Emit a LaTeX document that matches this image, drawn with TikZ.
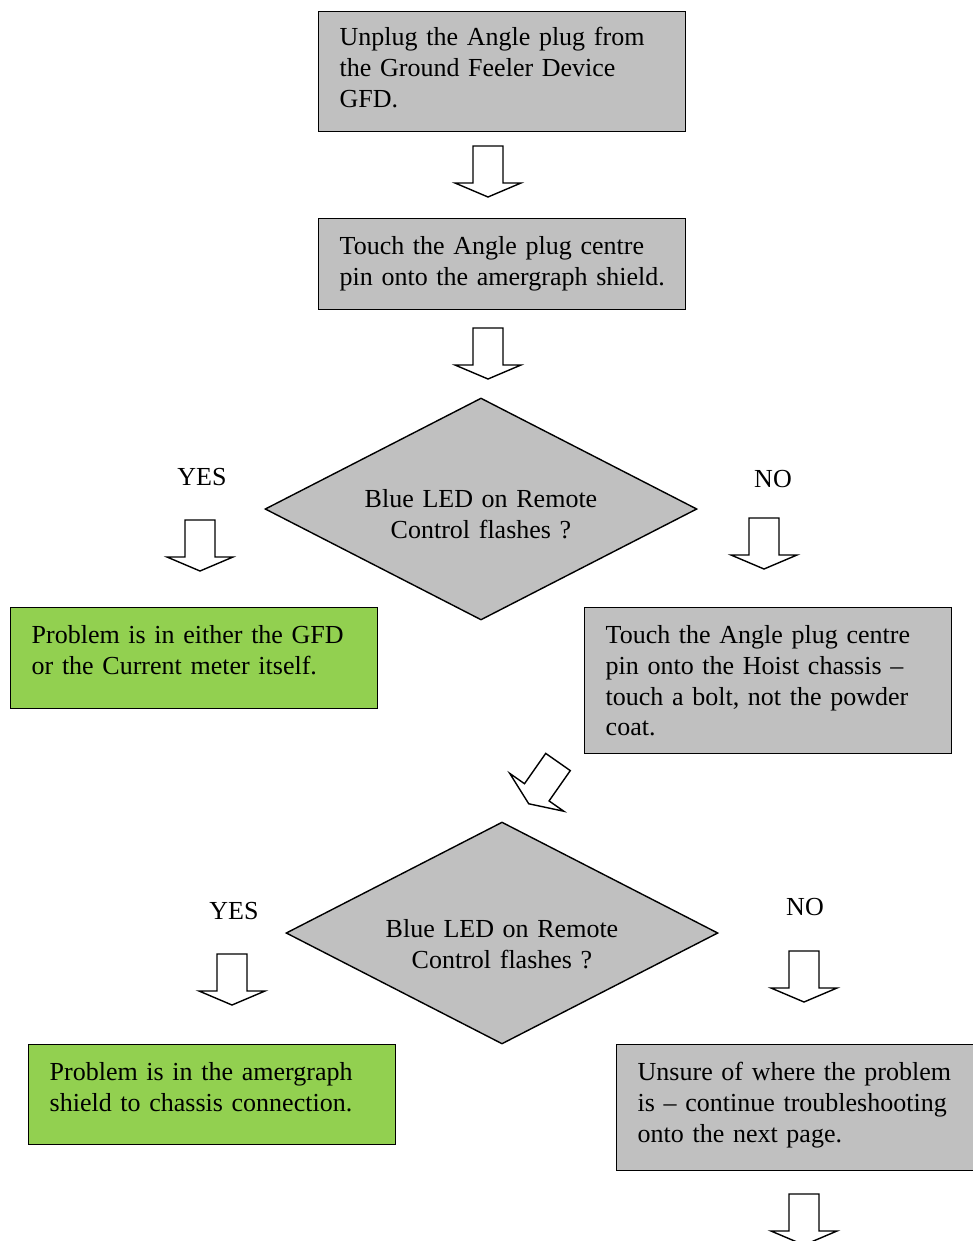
\documentclass[tikz,border=0pt]{standalone}
\usepackage{fontspec}
\setmainfont{Liberation Serif}
\usetikzlibrary{shapes.geometric}
\definecolor{boxgray}{HTML}{C0C0C0}
\definecolor{boxgreen}{HTML}{92D050}

\begin{document}
\begin{tikzpicture}[
    x=0.02cm, y=-0.02cm,
    font=\fontsize{14.8}{17.6}\selectfont,
    line width=0.8pt,
    stepbox/.style={draw, fill=boxgray, anchor=north west, align=left,
      inner xsep=0.42cm, inner ysep=0pt, text width=6.5cm,
      text height=0.71cm, text depth=#1},
    okbox/.style={stepbox=#1, fill=boxgreen},
    query/.style={draw, fill=boxgray, diamond, aspect=1.95, align=center,
      inner sep=0pt, text width=5cm, text height=0.4cm, text depth=#1,
      minimum width=8.64cm, minimum height=4.44cm},
    blockarrow/.pic={
      \draw[fill=white] (-15,0) -- (-15,37) -- (-33,37) -- (0,51)
        -- (33,37) -- (15,37) -- (15,0) -- cycle;
    }
  ]
  \useasboundingbox (0,0) rectangle (973,1241);

  % first steps
  \node[stepbox=1.73cm, text height=0.67cm] (unplug) at (318,11)
    {Unplug the Angle plug from\\the Ground Feeler Device\\GFD.};
  \pic (downA) at (488,146) {blockarrow};
  \node[stepbox=1.11cm] (shield) at (318,218)
    {Touch the Angle plug centre\\\mbox{pin onto the amergraph shield.}};
  \pic (downB) at (488,328) {blockarrow};

  % first check
  \node[query=0.46cm] (ledA) at (481,509) {Blue LED on Remote\\Control flashes ?};
  \node (yesA) at (202,477) {YES};
  \node (noA) at (773,479) {NO};
  \pic (downC) at (200,520) {blockarrow};
  \pic (downD) at (764,518) {blockarrow};
  \node[okbox=1.31cm] (gfd) at (10,607)
    {Problem is in either the GFD\\or the Current meter itself.};
  \node[stepbox=2.21cm] (hoist) at (584,607)
    {Touch the Angle plug centre\\pin onto the Hoist chassis --\\touch a bolt, not the powder\\coat.};
  \pic[rotate=-35] (downE) at (558,762) {blockarrow};

  % second check
  \node[query=0.216cm] (ledB) at (502,933) {Blue LED on Remote\\Control flashes ?};
  \node (yesB) at (234,911) {YES};
  \node (noB) at (805,907) {NO};
  \pic (downF) at (232,954) {blockarrow};
  \pic (downG) at (804,951) {blockarrow};
  \node[okbox=1.29cm] (chassis) at (28,1044)
    {Problem is in the amergraph\\shield to chassis connection.};
  \node[stepbox=1.81cm] (unsure) at (616,1044)
    {Unsure of where the problem\\is -- continue troubleshooting\\onto the next page.};
  \pic (downH) at (804,1194) {blockarrow};
\end{tikzpicture}
\end{document}
